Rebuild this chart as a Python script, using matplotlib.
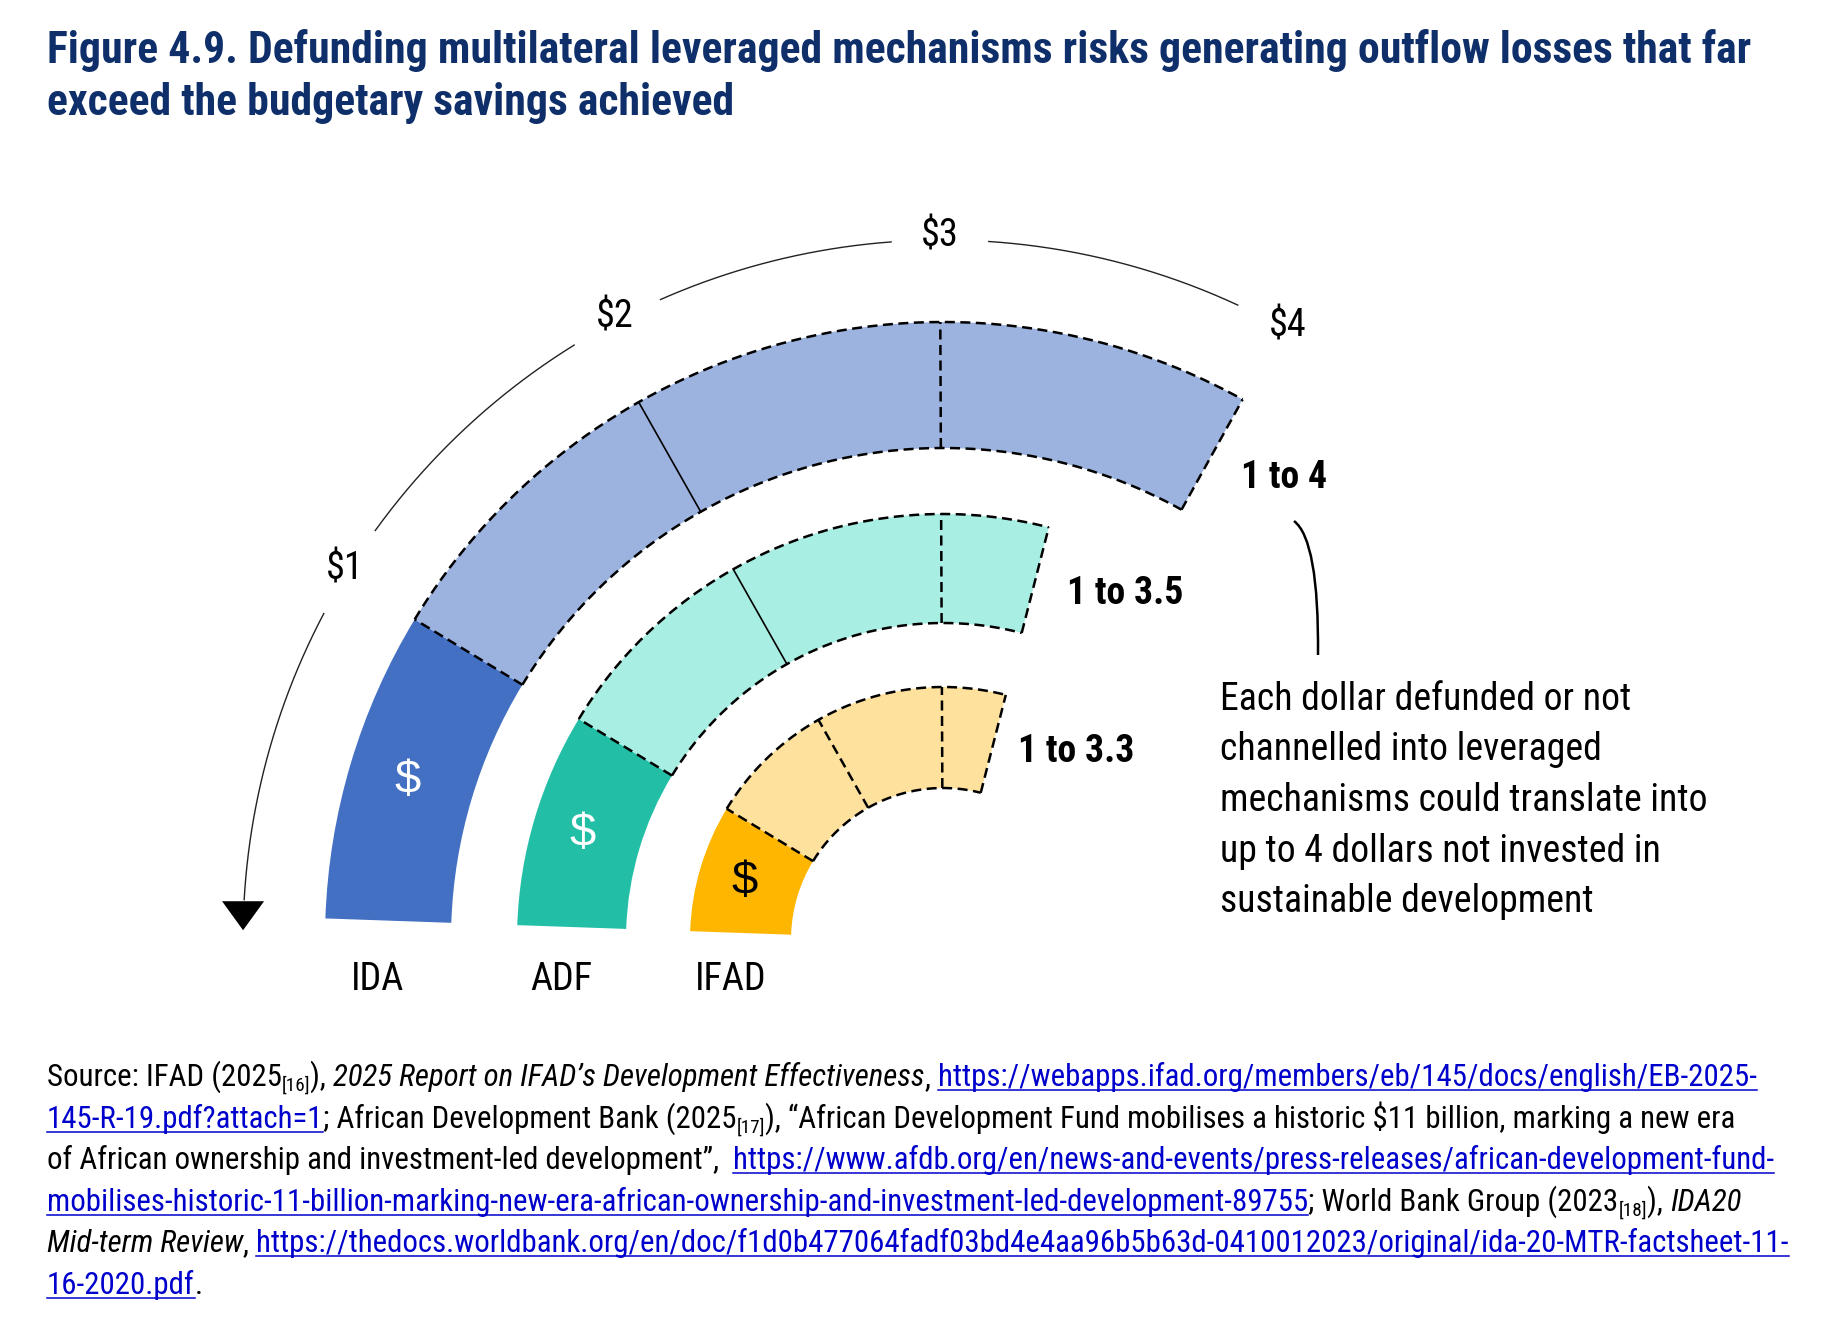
import numpy as np
import matplotlib.pyplot as plt
from matplotlib.patches import Wedge, Polygon, PathPatch
from matplotlib.path import Path
from matplotlib import font_manager

# Chart content
funds = ['IDA', 'ADF', 'IFAD']
ratio_labels = ['1 to 4', '1 to 3.5', '1 to 3.3']
arc_units = [4, 3.5, 3.5]          # drawn length of each ring, in dollars
scale_labels = ['$1', '$2', '$3', '$4']

title_lines = ['Figure 4.9. Defunding multilateral leveraged mechanisms risks generating outflow losses that far',
               'exceed the budgetary savings achieved']
note_lines = ['Each dollar defunded or not',
              'channelled into leveraged',
              'mechanisms could translate into',
              'up to 4 dollars not invested in',
              'sustainable development']

# source note: (text, kind)  n=normal, i=italic, s=subscript, l=link
source_lines = [
    [('Source: IFAD (2025', 'n'), ('[16]', 's'), ('), ', 'n'),
     ('2025 Report on IFAD\u2019s Development Effectiveness', 'i'), (', ', 'n'),
     ('https://webapps.ifad.org/members/eb/145/docs/english/EB-2025-', 'l')],
    [('145-R-19.pdf?attach=1', 'l'), ('; African Development Bank (2025', 'n'), ('[17]', 's'),
     ('), \u201cAfrican Development Fund mobilises a historic $11 billion, marking a new era', 'n')],
    [('of African ownership and investment-led development\u201d,  ', 'n'),
     ('https://www.afdb.org/en/news-and-events/press-releases/african-development-fund-', 'l')],
    [('mobilises-historic-11-billion-marking-new-era-african-ownership-and-investment-led-development-89755', 'l'),
     ('; World Bank Group (2023', 'n'), ('[18]', 's'), ('), ', 'n'), ('IDA20', 'i')],
    [('Mid-term Review', 'i'), (', ', 'n'),
     ('https://thedocs.worldbank.org/en/doc/f1d0b477064fadf03bd4e4aa96b5b63d-0410012023/original/ida-20-MTR-factsheet-11-', 'l')],
    [('16-2020.pdf', 'l'), ('.', 'n')],
]

# Styling / layout
installed = sorted({f.name for f in font_manager.fontManager.ttflist})
NARROW = 'Liberation Sans'
for cand in ['Liberation Sans Narrow', 'Arial Narrow', 'Roboto Condensed', 'Open Sans Condensed']:
    if cand in installed:
        NARROW = cand
        break
else:
    for name in installed:
        if ('Narrow' in name or 'Condensed' in name) and 'DejaVu' not in name:
            NARROW = name
            break

NAVY = '#0E2F6A'
LINK = '#0000CC'
dark = ['#4370C3', '#22BFA6', '#FFB600']
light = ['#9DB3DF', '#A9EEE3', '#FEE19C']
dollar_col = ['white', 'white', 'black']
split_style = [['--', '-', '--'], ['--', '-', '--'], ['--', '--', '--']]

W, H = 1839, 1319
cx, cy = 943, H - 940
r_out = [618, 426, 253]
r_in = [492, 317, 152]
start, step = 178.0, 29.25
r_scale = 700
label_nudge = [-0.55, -1.7, 0.0, -0.3]

fig = plt.figure(figsize=(W / 100, H / 100), dpi=100)
ax = fig.add_axes([0, 0, 1, 1])
ax.set_xlim(0, W)
ax.set_ylim(0, H)
ax.set_aspect('equal')
ax.axis('off')
renderer = fig.canvas.get_renderer()


def pt(r, a):
    a = np.radians(a)
    return cx + r * np.cos(a), cy + r * np.sin(a)


def text_w(s, **kw):
    t = ax.text(0, 0, '|' + s + '|', parse_math=False, **kw)
    t0 = ax.text(0, 0, '||', parse_math=False, **kw)
    w = t.get_window_extent(renderer).width - t0.get_window_extent(renderer).width
    t.remove()
    t0.remove()
    return w


def fit_size(s, target, **kw):
    # font size that gives the string the width seen in the reference
    return 20 * target / text_w(s, fontsize=20, **kw)


DASH = dict(color='black', lw=1.8, dashes=(4, 2.2), solid_capstyle='butt')

fs_label = fit_size('IFAD', 72, family=NARROW)
fs_ratio = fit_size('1 to 3.5', 116, family=NARROW, fontweight='bold')
fs_note = fit_size('mechanisms could translate into', 486, family=NARROW)
fs_title = fit_size(title_lines[0], 1698, family=NARROW, fontweight='bold')

# rings
for i, name in enumerate(funds):
    a1 = start - step
    a_end = start - arc_units[i] * step
    wd = r_out[i] - r_in[i]
    ax.add_patch(Wedge((cx, cy), r_out[i], a1, start, width=wd, fc=dark[i], ec='none'))
    ax.add_patch(Wedge((cx, cy), r_out[i], a_end, a1, width=wd, fc=light[i], ec='none'))
    t = np.linspace(a1, a_end, 300)
    for r in (r_out[i], r_in[i]):
        x, y = pt(r, t)
        ax.plot(x, y, **DASH)
    for k in range(1, int(np.ceil(arc_units[i]))):
        a = start - k * step
        (x0, y0), (x1, y1) = pt(r_in[i], a), pt(r_out[i], a)
        if split_style[i][k - 1] == '-':
            ax.plot([x0, x1], [y0, y1], color='black', lw=1.2)
        else:
            ax.plot([x0, x1], [y0, y1], **DASH)
    (x0, y0), (x1, y1) = pt(r_in[i], a_end), pt(r_out[i], a_end)
    ax.plot([x0, x1], [y0, y1], **DASH)

    mx, my = pt((r_out[i] + r_in[i]) / 2, start - step / 2)
    ax.text(mx - 4, my, '$', ha='center', va='center', fontsize=34, color=dollar_col[i],
            family='Liberation Sans', parse_math=False)
    ax.text(cx - (r_out[i] + r_in[i]) / 2 - 10, H - 980, name, ha='center', va='center',
            fontsize=fs_label, family=NARROW)

# ratio labels
ratio_pos = [(1241, 477), (1067, 594), (1018, 752)]
for lab, (x, y) in zip(ratio_labels, ratio_pos):
    ax.text(x, H - y, lab, ha='left', va='center', fontsize=fs_ratio, fontweight='bold',
            family=NARROW)

# dollar scale arc with arrow
gap = 4.0
label_angles = [start - (k + 1) * step + label_nudge[k] for k in range(len(scale_labels))]
for lab, a in zip(scale_labels, label_angles):
    x, y = pt(r_scale + 4, a)
    ax.text(x, y, lab, ha='center', va='center', fontsize=fs_label, family=NARROW, parse_math=False)
arrow_base, arrow_tip = 176.7, 179.2
bounds = [label_angles[-1] + gap + 0.4] + sorted(
    [v for a in label_angles[:-1] for v in (a - gap, a + gap)]) + [arrow_base]
for a0, a1 in zip(bounds[0::2], bounds[1::2]):
    t = np.linspace(a0, a1, 200)
    x, y = pt(r_scale, t)
    ax.plot(x, y, color='#222222', lw=1.0)
tx, ty = pt(r_scale, arrow_tip)
ax.add_patch(Polygon([(tx, ty), (tx - 21, ty + 29), (tx + 21, ty + 29)], closed=True,
                     fc='black', ec='none'))

# connector to the note
verts = [(1294, H - 521), (1319, H - 540), (1318, H - 655)]
ax.add_patch(PathPatch(Path(verts, [Path.MOVETO, Path.CURVE3, Path.CURVE3]),
                       fc='none', ec='black', lw=1.8))

for k, line in enumerate(note_lines):
    ax.text(1220, H - (710 + k * 50.5), line, ha='left', va='baseline', fontsize=fs_note,
            family=NARROW)

# title
for k, line in enumerate(title_lines):
    ax.text(47, H - (63.5 + k * 51.5), line, ha='left', va='baseline', fontsize=fs_title,
            fontweight='bold', color=NAVY, family=NARROW)


# source note with mixed styles
def seg_style(kind, fs):
    kw = dict(family=NARROW, fontsize=fs, color='black')
    if kind == 'i':
        kw['style'] = 'italic'
    elif kind == 's':
        kw['fontsize'] = fs * 0.62
    elif kind == 'l':
        kw['color'] = LINK
    return kw


w_long = sum(text_w(s, **seg_style(kind, 20)) for s, kind in source_lines[4])
FS = 20 * 1738 / w_long
for k, line in enumerate(source_lines):
    x = 47
    y = H - (1086 + k * 41.6)
    for s, kind in line:
        kw = seg_style(kind, FS)
        yy = y - FS * 0.22 if kind == 's' else y
        w = text_w(s, **kw)
        ax.text(x, yy, s, ha='left', va='baseline', parse_math=False, **kw)
        if kind == 'l':
            ax.plot([x, x + w], [y - 4, y - 4], color=LINK, lw=1.1)
        x += w

fig.savefig('out.png', dpi=100)
